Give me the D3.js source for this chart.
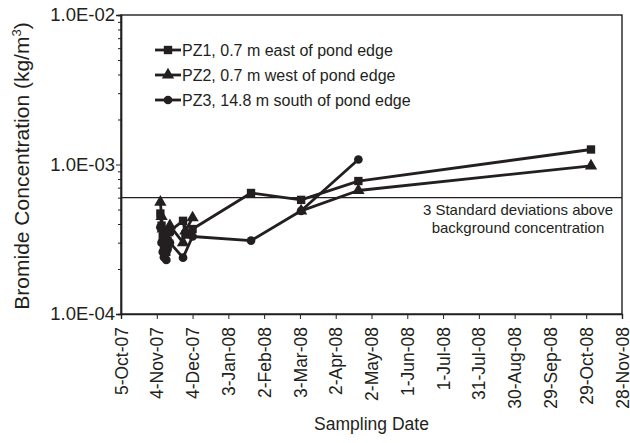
<!DOCTYPE html>
<html>
<head>
<meta charset="utf-8">
<script src="https://cdn.jsdelivr.net/npm/d3@7"></script>
<style>
  html, body { margin: 0; padding: 0; background: #fff; }
  svg { display: block; font-family: "Liberation Sans", Arial, sans-serif; }
</style>
</head>
<body>
<svg id="chart" width="630" height="443"></svg>
<script>
// Sampling dates (ISO) and bromide concentrations (kg/m3) for each piezometer.
// A null value leaves a gap in that series' line.
const pz1Dates = ["2007-11-07","2007-11-08","2007-11-09","2007-11-10","2007-11-12","2007-11-13","2007-11-15","2007-11-26","2007-11-28","2007-12-04","2008-01-22","2008-03-04","2008-04-21","2008-11-02"];
const pz1Values = [4.7e-4, 3.9e-4, 3.3e-4, 2.8e-4, 2.6e-4, 3.1e-4, 3.6e-4, 4.2e-4, 3.4e-4, 3.7e-4, 6.45e-4, 5.8e-4, 7.75e-4, 1.26e-3];

const pz2Dates = ["2007-11-07","2007-11-08","2007-11-09","2007-11-10","2007-11-12","2007-11-13","2007-11-15","2007-11-26","2007-11-28","2007-12-04","2008-01-22","2008-03-04","2008-04-21","2008-11-02"];
const pz2Values = [5.6e-4, 4.5e-4, 3.7e-4, 3.2e-4, 2.9e-4, 3.5e-4, 3.9e-4, 3.0e-4, 3.6e-4, 4.4e-4, null, 4.9e-4, 6.7e-4, 9.8e-4];

const pz3Dates = ["2007-11-07","2007-11-08","2007-11-09","2007-11-10","2007-11-12","2007-11-13","2007-11-15","2007-11-26","2007-12-04","2008-01-22","2008-03-04","2008-04-21"];
const pz3Values = [3.8e-4, 3.0e-4, 2.6e-4, 2.4e-4, 2.3e-4, 2.7e-4, 3.0e-4, 2.38e-4, 3.3e-4, 3.1e-4, 4.9e-4, 1.08e-3];

const seriesNames = ["PZ1, 0.7 m east of pond edge", "PZ2, 0.7 m west of pond edge", "PZ3, 14.8 m south of pond edge"];
const seriesSymbols = ["square", "triangle", "circle"];

// Threshold: 3 standard deviations above background
const thresholdValue = 6.0e-4;
const thresholdLabel = ["3 Standard deviations above", "background concentration"];

// Axis ticks
const xTickDates = ["2007-10-05","2007-11-04","2007-12-04","2008-01-03","2008-02-02","2008-03-03","2008-04-02","2008-05-02","2008-06-01","2008-07-01","2008-07-31","2008-08-30","2008-09-29","2008-10-29","2008-11-28"];
const yMajorTicks = [1e-4, 1e-3, 1e-2];
const yTickLabels = ["1.0E-04", "1.0E-03", "1.0E-02"];

const ink = "#231f20";
const font = "Liberation Sans, Arial, sans-serif";
const svg = d3.select("#chart");
const margin = { left: 121, right: 8, top: 15, bottom: 129 };
const W = 630, H = 443;
const parse = d3.utcParse("%Y-%m-%d");

const x = d3.scaleUtc()
  .domain([parse(xTickDates[0]), parse(xTickDates[xTickDates.length - 1])])
  .range([margin.left, W - margin.right]);
const y = d3.scaleLog()
  .domain([1e-4, 1e-2])
  .range([H - margin.bottom, margin.top]);

const series = [
  { dates: pz1Dates, values: pz1Values },
  { dates: pz2Dates, values: pz2Values },
  { dates: pz3Dates, values: pz3Values }
].map((s, i) => ({
  name: seriesNames[i],
  symbol: seriesSymbols[i],
  points: s.dates.map((d, j) => ({ date: parse(d), value: s.values[j] }))
}));

// Plot frame
svg.append("rect")
  .attr("x", x.range()[0]).attr("y", y.range()[1])
  .attr("width", x.range()[1] - x.range()[0])
  .attr("height", y.range()[0] - y.range()[1])
  .attr("fill", "none").attr("stroke", ink).attr("stroke-width", 1.4);

// Y axis: majors labelled, minors unlabelled
const yMinor = [];
for (let e = -4; e < -2; e++) for (let m = 2; m <= 9; m++) yMinor.push(m * Math.pow(10, e));
const yAxis = svg.append("g").attr("transform", `translate(${margin.left},0)`);
yAxis.call(d3.axisLeft(y).tickValues(yMinor).tickSize(3).tickFormat(""));
yAxis.append("g").call(d3.axisLeft(y).tickValues(yMajorTicks).tickSize(5)
  .tickFormat((d, i) => yTickLabels[i]));
yAxis.selectAll(".domain").attr("stroke", ink).attr("stroke-width", 1.4);
yAxis.selectAll("line").attr("stroke", ink);
yAxis.selectAll("text").attr("fill", ink).attr("font-size", 18.5)
  .attr("font-family", font).attr("x", -6);

// X axis with rotated date labels
const fmt = d3.utcFormat("%-d-%b-%y");
const xAxis = svg.append("g").attr("transform", `translate(0,${H - margin.bottom})`)
  .call(d3.axisBottom(x).tickValues(xTickDates.map(parse)).tickSize(5).tickFormat(fmt));
xAxis.selectAll(".domain").attr("stroke", ink).attr("stroke-width", 1.4);
xAxis.selectAll("line").attr("stroke", ink);
xAxis.selectAll("text")
  .attr("fill", ink).attr("font-size", 17.5)
  .attr("font-family", font)
  .attr("transform", "rotate(-90)")
  .attr("x", -13).attr("y", 0).attr("dy", "0.35em")
  .attr("text-anchor", "end");

// Axis titles
svg.append("text")
  .attr("x", (x.range()[0] + x.range()[1]) / 2).attr("y", 430)
  .attr("text-anchor", "middle").attr("font-size", 17.5).attr("fill", ink)
  .text("Sampling Date");
const yTitle = svg.append("text")
  .attr("transform", `translate(29,166) rotate(-90)`)
  .attr("text-anchor", "middle").attr("font-size", 21).attr("fill", ink);
yTitle.append("tspan").text("Bromide Concentration (kg/m");
yTitle.append("tspan").attr("dy", -8).attr("font-size", 13).text("3");
yTitle.append("tspan").attr("dy", 8).text(")");

// Threshold line and note
svg.append("line")
  .attr("x1", x.range()[0]).attr("x2", x.range()[1])
  .attr("y1", y(thresholdValue)).attr("y2", y(thresholdValue))
  .attr("stroke", ink).attr("stroke-width", 1.2);
thresholdLabel.forEach((t, i) => {
  svg.append("text")
    .attr("x", 518).attr("y", y(thresholdValue) + 17 + i * 18)
    .attr("text-anchor", "middle").attr("font-size", 15).attr("fill", ink)
    .text(t);
});

// Marker shapes
const symbolType = { square: d3.symbolSquare, triangle: d3.symbolTriangle, circle: d3.symbolCircle };
const symbolSize = { square: 70, triangle: 66, circle: 60 };
const symbolPath = s => d3.symbol().type(symbolType[s]).size(symbolSize[s])();

// Series lines and markers
const line = d3.line()
  .defined(d => d.value != null)
  .x(d => x(d.date)).y(d => y(d.value));
const plot = svg.append("g");
series.forEach(s => {
  plot.append("path").datum(s.points)
    .attr("d", line).attr("fill", "none")
    .attr("stroke", ink).attr("stroke-width", 2.8).attr("stroke-linejoin", "round");
});
series.forEach(s => {
  plot.selectAll(null).data(s.points.filter(d => d.value != null)).join("path")
    .attr("d", symbolPath(s.symbol))
    .attr("transform", d => `translate(${x(d.date)},${y(d.value)})`)
    .attr("fill", ink);
});

// Legend
const legend = svg.append("g").attr("transform", "translate(155,50)");
series.forEach((s, i) => {
  const row = legend.append("g").attr("transform", `translate(0,${i * 25})`);
  row.append("line").attr("x1", 0).attr("x2", 26).attr("stroke", ink).attr("stroke-width", 2.8);
  row.append("path").attr("d", symbolPath(s.symbol)).attr("transform", "translate(13,0)").attr("fill", ink);
  row.append("text").attr("x", 27).attr("dy", "0.35em")
    .attr("font-size", 16).attr("fill", ink).text(s.name);
});
</script>
</body>
</html>
